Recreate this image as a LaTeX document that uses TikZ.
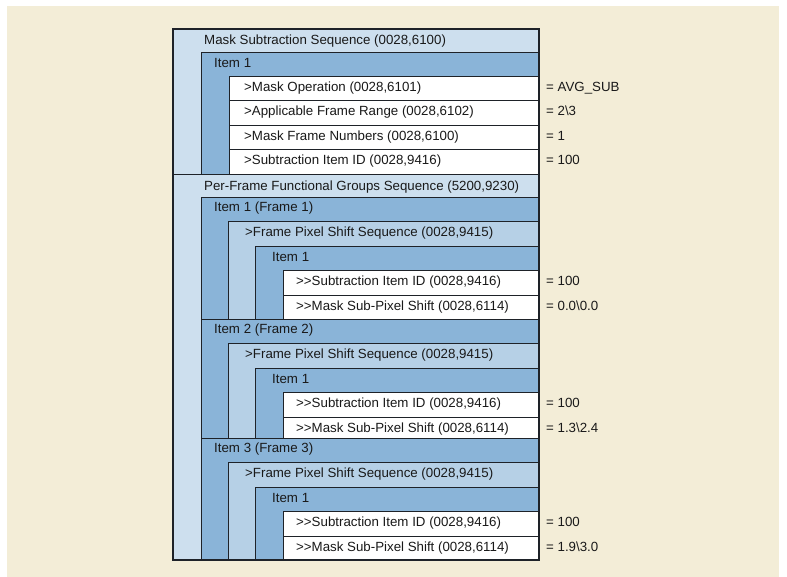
\documentclass[tikz,border=0pt]{standalone}
\usepackage{fontspec}
\setmainfont{Liberation Sans}
\usetikzlibrary{positioning}
\definecolor{DcmBack}{RGB}{243,237,215}
\definecolor{DcmSeq}{RGB}{205,223,238}
\definecolor{DcmItem}{RGB}{138,180,216}
\definecolor{DcmSub}{RGB}{182,208,230}
\definecolor{DcmLine}{RGB}{30,34,40}
\tikzset{
  dcm box/.style={draw=DcmLine, line width=0.9pt},
  dcm seq/.style={dcm box, fill=DcmSeq},
  dcm item/.style={dcm box, fill=DcmItem},
  dcm sub/.style={dcm box, fill=DcmSub},
  dcm attr/.style={dcm box, fill=white},
  dcm frame/.style={draw=DcmLine, line width=1.3pt},
  dcm text/.style={
    anchor=west,
    inner sep=0pt,
    text height=9.6pt,
    text depth=2.7pt,
    font=\fontsize{13.3}{15}\selectfont,
    text=black!90
  }
}

\begin{document}
\begin{tikzpicture}[x=1pt, y=-1pt]
\useasboundingbox (0,0) rectangle (787,577);
\fill[DcmBack] (7,6) rectangle (779,577);
% mask subtraction sequence
\draw[dcm seq] (173,29) rectangle (539,174);
\node[dcm text] (mss) at (204,41) {Mask Subtraction Sequence (0028,6100)};
\draw[dcm item] (201,52) rectangle (539,174);
\node[dcm text] (mssitem) at (214,64) {Item 1};
\foreach \i/\top/\bot/\mid/\tag/\val in {
    1/76/100/88/{>Mask Operation (0028,6101)}/{= AVG\_SUB},
    2/100/125/112.5/{>Applicable Frame Range (0028,6102)}/{= 2\textbackslash 3},
    3/125/149/137/{>Mask Frame Numbers (0028,6100)}/{= 1},
    4/149/174/161.5/{>Subtraction Item ID (0028,9416)}/{= 100}} {
  \draw[dcm attr] (229,\top) rectangle (539,\bot);
  \node[dcm text] (mattr\i) at (244,\mid) {\tag};
  \node[dcm text] (mval\i) at (546,\mid) {\val};
}
% per-frame functional groups sequence
\draw[dcm seq] (173,174) rectangle (539,560);
\node[dcm text] (pff) at (204,187) {Per-Frame Functional Groups Sequence (5200,9230)};
\foreach \k/\t/\b/\va in {
    1/197/319/{0.0\textbackslash 0.0},
    2/319/438/{1.3\textbackslash 2.4},
    3/438/560/{1.9\textbackslash 3.0}} {
  \draw[dcm item] (201,\t) rectangle (539,\b);
  \node[dcm text] (fitem\k) at (214,\t+11) {Item \k\ (Frame \k)};
  \draw[dcm sub] (228,\t+24) rectangle (539,\b);
  \node[dcm text] (fps\k) at (245,\t+36) {>Frame Pixel Shift Sequence (0028,9415)};
  \draw[dcm item] (255,\t+49) rectangle (539,\b);
  \node[dcm text] (fpsitem\k) at (272,\t+61) {Item 1};
  \draw[dcm attr] (283,\t+73) rectangle (539,\t+98);
  \draw[dcm attr] (283,\t+98) rectangle (539,\b);
  \node[dcm text] (sid\k) at (296,\t+85) {>{}>Subtraction Item ID (0028,9416)};
  \node[dcm text] (sps\k) at (296,\t+110) {>{}>Mask Sub-Pixel Shift (0028,6114)};
  \node[dcm text] (vid\k) at (546,\t+85) {= 100};
  \node[dcm text] (vps\k) at (546,\t+110) {= \va};
}
\draw[dcm frame] (173,29) rectangle (539,560);
\end{tikzpicture}
\end{document}
